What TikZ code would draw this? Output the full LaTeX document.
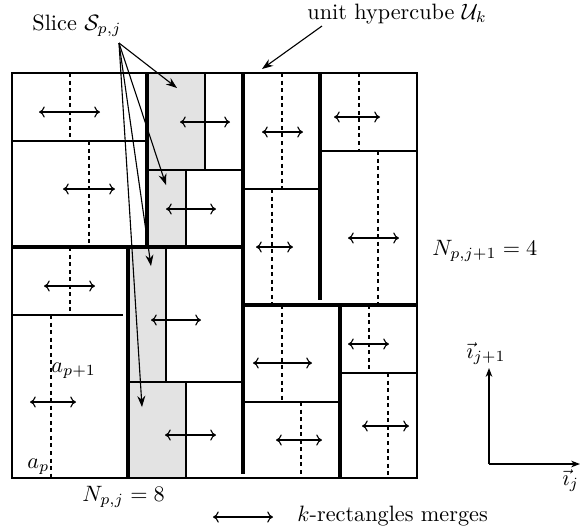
\documentclass[tikz,border=0pt]{standalone}
\usetikzlibrary{arrows.meta}
\begin{document}
\begin{tikzpicture}[x=0.45pt,y=-0.45pt,
  thinline/.style={line width=0.5pt},
  thickline/.style={line width=1.4pt},
  dashline/.style={line width=0.5pt, dash pattern=on 1.8pt off 1.6pt},
  merge/.style={line width=0.5pt, {To[length=2.6pt,width=5pt]}-{To[length=2.6pt,width=5pt]}},
  slicefill/.style={fill=black!11},
  callout/.style={line width=0.5pt, -{Stealth[length=5pt,width=3.6pt]}},
  lbl/.style={inner sep=0pt, anchor=base west}]
\useasboundingbox (0,0) rectangle (581,531);

% shaded slices
\fill[slicefill] (147,73) rectangle (205,170);
\fill[slicefill] (147,170) rectangle (186,247);
\fill[slicefill] (128,247) rectangle (166,382);
\fill[slicefill] (128,382) rectangle (186,478);

% outer box
\draw[line width=0.6pt] (12,73) rectangle (417,478);

% region A (top-left)
\draw[thinline] (12,141) -- (147,141);
\draw[dashline] (70,73) -- (70,141);
\draw[merge] (39,112) -- (100,112);
\draw[dashline] (89,141) -- (89,247);
\draw[merge] (63,189) -- (115,189);

% region B
\draw[thinline] (205,73) -- (205,170);
\draw[thinline] (147,170) -- (243,170);
\draw[merge] (180,122) -- (230,122);
\draw[thinline] (186,170) -- (186,247);
\draw[merge] (166,209) -- (216,209);

% region C
\draw[thinline] (243,189) -- (320,189);
\draw[dashline] (282,73) -- (282,189);
\draw[merge] (262,132) -- (303,132);
\draw[dashline] (272,189) -- (272,305);
\draw[merge] (256,247) -- (293,247);

% region D
\draw[thinline] (320,151) -- (417,151);
\draw[dashline] (359,73) -- (359,151);
\draw[merge] (334,117) -- (380,117);
\draw[dashline] (378,151) -- (378,305);
\draw[merge] (348,238) -- (399,238);

% region E
\draw[thinline] (243,402) -- (340,402);
\draw[dashline] (282,305) -- (282,402);
\draw[merge] (253,363) -- (312,363);
\draw[dashline] (301,402) -- (301,478);
\draw[merge] (276,440) -- (322,440);

% region F
\draw[thinline] (338,373) -- (417,373);
\draw[dashline] (369,305) -- (369,373);
\draw[merge] (348,344) -- (389,344);
\draw[dashline] (388,373) -- (388,478);
\draw[merge] (362,426) -- (409,426);

% region G
\draw[thinline] (12,315) -- (123,315);
\draw[dashline] (70,247) -- (70,315);
\draw[merge] (44,286) -- (95,286);
\draw[dashline] (51,315) -- (51,478);
\draw[merge] (30,402) -- (76,402);

% region H
\draw[thinline] (166,247) -- (166,382);
\draw[thinline] (128,382) -- (243,382);
\draw[merge] (151,320) -- (201,320);
\draw[thinline] (186,382) -- (186,478);
\draw[merge] (165,435) -- (216,435);

% thick partition lines
\draw[thickline] (147,73) -- (147,247);
\draw[thickline] (12,247) -- (243,247);
\draw[thickline] (243,73) -- (243,474);
\draw[thickline] (320,73) -- (320,300);
\draw[thickline] (243,305) -- (417,305);
\draw[thickline] (340,303) -- (340,478);
\draw[thickline] (128,247) -- (128,478);

% labels
\node[lbl] (slice) at (32,30) {Slice $\mathcal{S}_{p,j}$};
\node[lbl] (cube) at (307,19) {unit hypercube $\mathcal{U}_k$};
\node[lbl] (nj1) at (432,255) {$N_{p,j+1}=4$};
\node[lbl] (nj) at (82,501) {$N_{p,j}=8$};
\node[lbl] (ap1) at (51,372) {$a_{p+1}$};
\node[lbl] (ap) at (27,468) {$a_p$};

% callouts
\coordinate (s0) at (119,43);
\coordinate (t1) at (177,88);
\coordinate (t2) at (166,185);
\coordinate (t3) at (151,266);
\coordinate (t4) at (142,407);
\draw[callout] (s0) -- (t1);
\draw[callout] (s0) -- (t2);
\draw[callout] (s0) -- (t3);
\draw[callout] (s0) -- (t4);
\coordinate (c0) at (322,26);
\coordinate (c1) at (262,69);
\draw[callout] (c0) -- (c1);

% axes
\coordinate (o) at (489,464);
\coordinate (ay) at (489,368);
\coordinate (ax) at (580,464);
\draw[line width=0.5pt, -{Stealth[length=4pt,width=3pt]}] (o) -- (ay);
\draw[line width=0.5pt, -{Stealth[length=4pt,width=3pt]}] (o) -- (ax);
\node[lbl] (iy) at (466,358) {$\vec{\imath}_{j+1}$};
\node[lbl] (ix) at (562,485) {$\vec{\imath}_j$};

% legend
\coordinate (l0) at (213,517);
\coordinate (l1) at (273,517);
\draw[merge] (l0) -- (l1);
\node[lbl] (leg) at (297,521) {$k$-rectangles merges};
\end{tikzpicture}
\end{document}
